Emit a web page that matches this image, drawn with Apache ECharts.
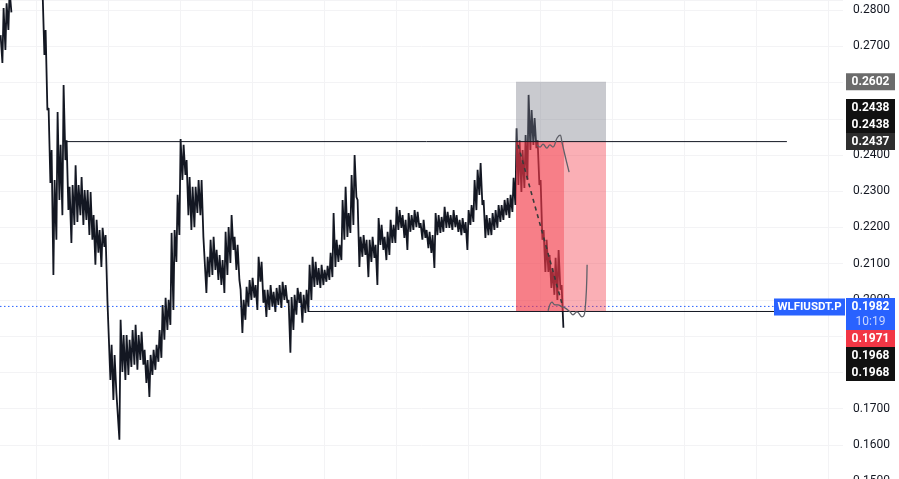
<!DOCTYPE html>
<html><head><meta charset="utf-8">
<script src="https://cdn.jsdelivr.net/npm/echarts@6/dist/echarts.min.js"></script>
<style>html,body{margin:0;padding:0;background:#fff}#c{width:899px;height:479px}</style>
</head><body><div id="c"></div>
<script>
// ---- price bars (bar index -> high / low), null = above the visible range ----
const barHighs = [0.2731,0.2806,0.2819,0.2855,null,null,null,null,null,null,null,null,null,null,
0.2850,0.2745,0.2530,0.2414,0.2331,0.2519,0.2428,0.2593,0.2441,0.2312,0.2317,0.2372,0.2317,0.2339,0.2303,0.2303,
0.2298,0.2234,0.2221,0.2193,0.2199,0.2179,0.2000,0.1876,0.1848,0.1738,0.1945,0.1903,0.1903,0.1890,0.1917,0.1931,
0.1903,0.1912,0.1862,0.1834,0.1848,0.1862,0.1876,0.1917,0.1986,0.2006,0.2000,0.2185,0.2193,0.2290,0.2444,0.2428,
0.2386,0.2339,0.2312,0.2312,0.2331,0.2331,0.2179,0.2119,0.2166,0.2174,0.2138,0.2124,0.2110,0.2188,0.2201,0.2234,
0.2174,0.2152,0.2028,0.2000,0.2036,0.2055,0.2061,0.2041,0.2119,0.2105,0.2028,0.2028,0.2041,0.2022,0.2033,0.2041,
0.2050,0.2041,0.2000,0.2008,0.2014,0.2033,0.2022,0.2014,0.2028,0.2097,0.2119,0.2105,0.2088,0.2097,0.2083,0.2094,
0.2130,0.2240,0.2166,0.2152,0.2276,0.2312,0.2240,0.2345,0.2400,0.2276,0.2174,0.2179,0.2166,0.2166,0.2174,0.2152,
0.2226,0.2207,0.2174,0.2188,0.2221,0.2207,0.2257,0.2248,0.2234,0.2221,0.2240,0.2234,0.2248,0.2243,0.2212,0.2221,
0.2193,0.2188,0.2179,0.2240,0.2234,0.2229,0.2257,0.2243,0.2234,0.2248,0.2234,0.2221,0.2226,0.2215,0.2248,0.2262,
0.2331,0.2359,0.2378,0.2276,0.2234,0.2226,0.2240,0.2248,0.2262,0.2262,0.2276,0.2281,0.2290,0.2337,0.2474,0.2441,
0.2414,0.2455,0.2566,0.2524,0.2502,0.2441,0.2331,0.2193,0.2166,0.2124,0.2088,0.2116,0.2138,0.2041];
const barLows = [0.2654,0.2690,0.2745,0.2794,null,null,null,null,null,null,null,null,null,null,
0.2676,0.2524,0.2323,0.2069,0.2166,0.2276,0.2234,0.2386,0.2248,0.2157,0.2207,0.2215,0.2234,0.2207,0.2221,0.2179,
0.2166,0.2097,0.2130,0.2091,0.2146,0.2000,0.1779,0.1724,0.1743,0.1614,0.1801,0.1779,0.1793,0.1815,0.1821,0.1807,
0.1834,0.1821,0.1771,0.1732,0.1793,0.1807,0.1829,0.1840,0.1890,0.1917,0.1931,0.1972,0.2105,0.2179,0.2331,0.2345,
0.2234,0.2193,0.2201,0.2240,0.2234,0.2174,0.2019,0.2063,0.2069,0.2083,0.2055,0.2041,0.2019,0.2069,0.2102,0.2138,
0.2083,0.2055,0.1909,0.1945,0.1981,0.2000,0.2006,0.1972,0.2050,0.1992,0.1953,0.1972,0.1981,0.1967,0.1986,0.1978,
0.2000,0.1992,0.1854,0.1917,0.1959,0.1992,0.1937,0.1964,0.1967,0.2000,0.2036,0.2041,0.2033,0.2041,0.2050,0.2055,
0.2063,0.2091,0.2105,0.2110,0.2166,0.2174,0.2185,0.2207,0.2284,0.2091,0.2119,0.2124,0.2063,0.2105,0.2116,0.2041,
0.2152,0.2138,0.2110,0.2124,0.2157,0.2157,0.2193,0.2199,0.2171,0.2138,0.2188,0.2193,0.2201,0.2199,0.2166,0.2171,
0.2143,0.2130,0.2088,0.2179,0.2185,0.2188,0.2199,0.2199,0.2193,0.2201,0.2188,0.2179,0.2185,0.2138,0.2207,0.2215,
0.2248,0.2290,0.2262,0.2171,0.2179,0.2179,0.2193,0.2199,0.2215,0.2221,0.2234,0.2226,0.2243,0.2262,0.2317,0.2298,
0.2309,0.2331,0.2414,0.2428,0.2419,0.2317,0.2166,0.2077,0.2077,0.2033,0.2014,0.2000,0.2028,0.1923];

// ---- axis ----
const yMin = 0.15, yMax = 0.2828, yStep = 0.01;
const xSlots = 281;
const gridXs = [12, 36, 60, 84, 108, 132, 156, 180, 204, 228, 252, 276];

// ---- drawings ----
const levelLines = [
  {price: 0.2437, from: 22, to: 262.3},
  {price: 0.1968, from: 102.7, to: 281}
];
const lastPrice = 0.1982;
// position tool boxes: [xStart, xEnd, priceTop, priceBottom, colorIndex]
const positionBoxes = [
  [172, 202, 0.2602, 0.2437, 0],
  [172, 202, 0.2437, 0.1968, 1],
  [172, 188, 0.2437, 0.1968, 1]
];
const dashedPath = [[172.7, 0.2428], [187.3, 0.1990]];
const ghostUpper = [[179,0.2428],[180,0.2422],[181,0.2430],[182.3,0.2419],[183.3,0.2428],[184.3,0.2422],[185.7,0.2447],[186.7,0.2455],[187.3,0.2436],[188.3,0.2400],[189.7,0.2353]];
const ghostLower = [[182.7,0.1970],[184,0.1994],[185,0.1986],[186,0.1986],[187.3,0.1981],[188.3,0.1978],[190,0.1967],[191,0.1959],[192.3,0.1967],[194,0.1953],[195,0.1970],[195.7,0.2097]];

// ---- price tags on the right ----
const tagValues = ['0.2602','0.2438','0.2438','0.2437','0.1982','0.1971','0.1968','0.1968'];
const tagColors = ['#6b6b6b','#111111','#111111','#2e2e2e','#2962ff','#f23645','#111111','#111111'];
const symbolName = 'WLFIUSDT.P';
const countdown = '10:19';

const chart = echarts.init(document.getElementById('c'), null, {renderer: 'canvas'});
// each bar drawn as a high -> low stroke, bars joined in sequence
const pricePath = [];
barHighs.forEach((h, i) => {
  if (h == null) { pricePath.push([i + 0.5, '-']); return; }
  pricePath.push([i + 0.2, h]);
  pricePath.push([i + 0.8, barLows[i]]);
});

const boxColors = ['rgba(120,123,134,0.4)', 'rgba(242,54,69,0.4)'];
const series = [
  {
    type: 'custom', z: 0, silent: true, clip: true,
    data: gridXs.map(x => [x]),
    encode: {x: 0},
    renderItem: (params, api) => {
      const p = api.coord([api.value(0), yMax]);
      const cs = params.coordSys;
      return {type: 'line', shape: {x1: Math.round(p[0]) + 0.5, y1: cs.y, x2: Math.round(p[0]) + 0.5, y2: cs.y + cs.height},
        style: {stroke: '#f3f3f5', lineWidth: 1}};
    }
  },
  {
    type: 'line', z: 1, silent: true, showSymbol: false,
    data: [[0, lastPrice], [xSlots, lastPrice]],
    lineStyle: {color: '#2962ff', width: 1, type: [1.5, 2.5]}
  },
  {
    type: 'line', z: 2, silent: true, showSymbol: false, connectNulls: false, clip: true,
    data: pricePath,
    lineStyle: {color: '#131722', width: 1.8, join: 'miter', miterLimit: 2}
  },
  {
    type: 'custom', z: 3, silent: true, clip: true,
    data: positionBoxes,
    encode: {x: [0, 1], y: [2, 3]},
    renderItem: (params, api) => {
      const a = api.coord([api.value(0), api.value(2)]);
      const b = api.coord([api.value(1), api.value(3)]);
      return {type: 'rect', shape: {x: a[0], y: a[1], width: b[0] - a[0], height: b[1] - a[1]},
        style: {fill: boxColors[api.value(4)]}};
    }
  }
];
levelLines.forEach(l => series.push({
  type: 'line', z: 4, silent: true, showSymbol: false,
  data: [[l.from, l.price], [l.to, l.price]],
  lineStyle: {color: '#131722', width: 1}
}));
series.push({type: 'line', z: 4, silent: true, showSymbol: false, data: dashedPath,
  lineStyle: {color: '#3a3a3a', width: 1.6, type: [4, 4]}});
series.push({type: 'line', z: 4, silent: true, showSymbol: false, smooth: 0.4, data: ghostUpper,
  lineStyle: {color: '#5f6068', width: 1.3}});
series.push({type: 'line', z: 4, silent: true, showSymbol: false, smooth: 0.4, data: ghostLower,
  lineStyle: {color: '#5f6068', width: 1.3}});

chart.setOption({
  animation: false,
  backgroundColor: '#ffffff',
  grid: {left: 0, width: 843, top: 0, height: 481, containLabel: false, outerBoundsMode: 'none'},
  xAxis: {type: 'value', min: 0, max: xSlots, show: false},
  yAxis: {
    type: 'value', position: 'right', min: yMin, max: yMax, interval: yStep,
    axisLine: {show: false}, axisTick: {show: false},
    splitLine: {lineStyle: {color: '#f3f3f5', width: 1}},
    axisLabel: {margin: 10, color: '#131722', fontSize: 12, fontFamily: 'Roboto, sans-serif',
      showMaxLabel: false, formatter: v => v.toFixed(4)}
  },
  series: series
});

// price tags
const H = 17, HB = 32;
const tops = tagValues.map((v, i) => chart.convertToPixel({yAxisIndex: 0}, parseFloat(v)) - H / 2);
const heights = tagValues.map((v, i) => i === 4 ? HB : H);
for (let i = 2; i >= 1; i--) tops[i] = Math.min(tops[i], tops[i + 1] - heights[i]);
for (let i = 5; i <= 7; i++) tops[i] = Math.max(tops[i], tops[i - 1] + heights[i - 1]);
const gfx = [];
const bx = 846, bw = 49;
tagValues.forEach((v, i) => {
  gfx.push({type: 'rect', z: 100, shape: {x: bx, y: tops[i], width: bw, height: heights[i]}, style: {fill: tagColors[i]}});
  gfx.push({type: 'text', z: 101, x: bx + bw / 2, y: tops[i] + H / 2 + 0.5,
    style: {text: v, fill: '#ffffff', font: 'bold 12px Roboto, sans-serif', align: 'center', verticalAlign: 'middle'}});
  if (i === 4) {
    gfx.push({type: 'text', z: 101, x: bx + bw / 2, y: tops[i] + H + 7,
      style: {text: countdown, fill: '#c9d6ff', font: '12px Roboto, sans-serif', align: 'center', verticalAlign: 'middle'}});
  }
});
const lpY = chart.convertToPixel({yAxisIndex: 0}, lastPrice);
gfx.push({type: 'rect', z: 100, shape: {x: 774, y: lpY - 8, width: 71, height: 17}, style: {fill: '#2962ff'}});
gfx.push({type: 'text', z: 101, x: 809.5, y: lpY + 0.5,
  style: {text: symbolName, fill: '#ffffff', font: 'bold 11.5px Roboto, sans-serif', align: 'center', verticalAlign: 'middle'}});
chart.setOption({graphic: gfx});
</script>
</body></html>
